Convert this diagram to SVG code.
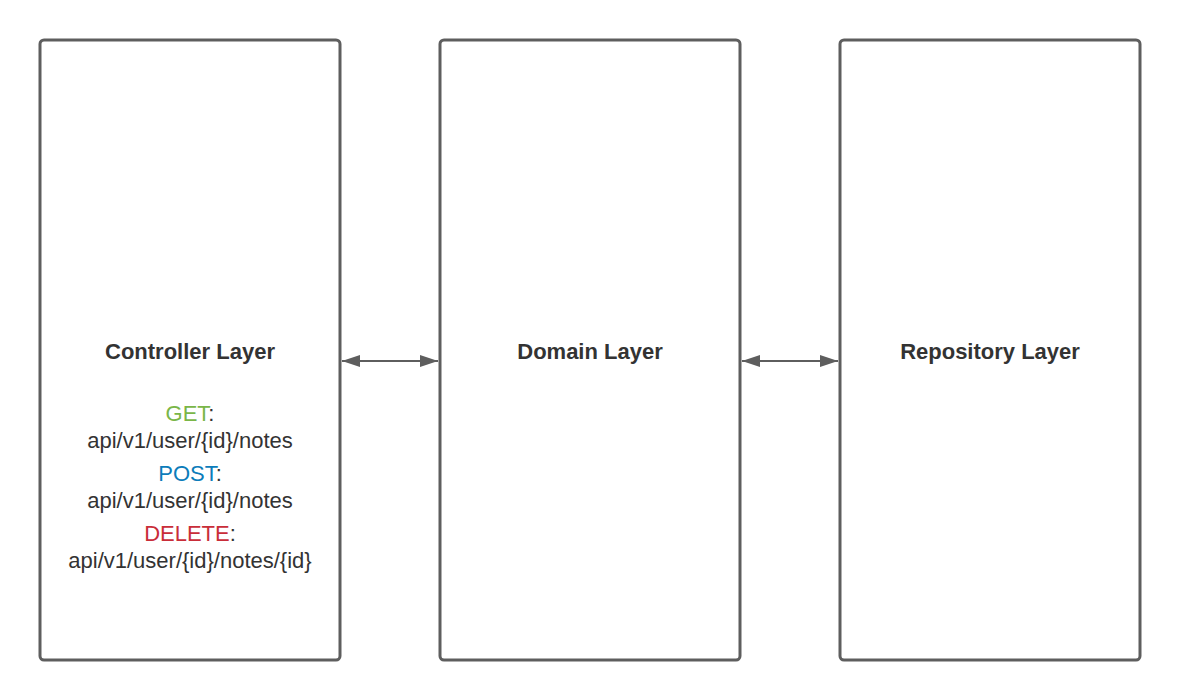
<svg xmlns="http://www.w3.org/2000/svg" width="1180" height="700" viewBox="0 0 1180 700">
<defs>
<style>
.box{fill:#fff;stroke:#5e5e5e;stroke-width:3}
.title{font-family:"Liberation Sans",Arial,sans-serif;font-size:22px;font-weight:bold;fill:#333;text-anchor:middle}
.t{font-family:"Liberation Sans",Arial,sans-serif;font-size:22px;fill:#333;text-anchor:middle}
.conn{stroke:#5e5e5e;stroke-width:2;fill:none}
</style>
<marker id="ah" viewBox="0 0 18 12" refX="18" refY="6" markerWidth="18" markerHeight="12" markerUnits="userSpaceOnUse" orient="auto-start-reverse">
<path d="M0,0 L18,6 L0,12 Z" fill="#5e5e5e"/>
</marker>
</defs>
<rect width="1180" height="700" fill="#fff"/>
<g id="controller">
<rect class="box" x="40" y="40" width="300" height="620" rx="4"/>
<text class="title" x="190" y="359">Controller Layer</text>
<text class="t" x="190" y="421"><tspan fill="#7ab648">GET</tspan>:</text>
<text class="t" x="190" y="448">api/v1/user/{id}/notes</text>
<text class="t" x="190" y="481"><tspan fill="#0c7cba">POST</tspan>:</text>
<text class="t" x="190" y="508">api/v1/user/{id}/notes</text>
<text class="t" x="190" y="541"><tspan fill="#c92d39">DELETE</tspan>:</text>
<text class="t" x="190" y="568">api/v1/user/{id}/notes/{id}</text>
</g>
<g id="domain">
<rect class="box" x="440" y="40" width="300" height="620" rx="4"/>
<text class="title" x="590" y="359">Domain Layer</text>
</g>
<g id="repository">
<rect class="box" x="840" y="40" width="300" height="620" rx="4"/>
<text class="title" x="990" y="359">Repository Layer</text>
</g>
<g id="connectors">
<line class="conn" x1="342" y1="361" x2="438" y2="361" marker-start="url(#ah)" marker-end="url(#ah)"/>
<line class="conn" x1="742" y1="361" x2="838" y2="361" marker-start="url(#ah)" marker-end="url(#ah)"/>
</g>
</svg>
